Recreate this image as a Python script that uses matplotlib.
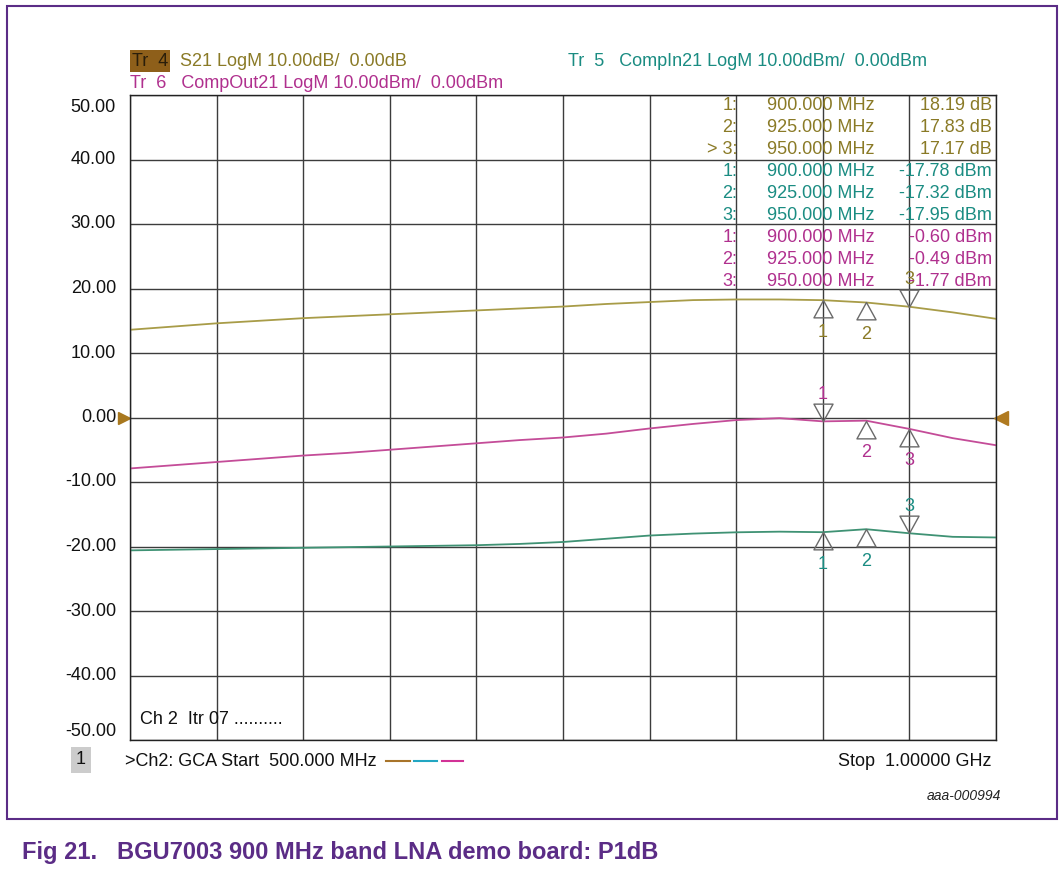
import numpy as np
import matplotlib
matplotlib.use("Agg")
import matplotlib.pyplot as plt
from matplotlib.path import Path
from matplotlib.lines import Line2D
from matplotlib.patches import Rectangle
import matplotlib.transforms as mtransforms

plt.rcParams['font.family'] = ['Liberation Sans', 'DejaVu Sans']

# frequency axis (MHz) and the three traces
freq = [500, 525, 550, 575, 600, 625, 650, 675, 700, 725, 750,
        775, 800, 825, 850, 875, 900, 925, 950, 975, 1000]
s21 = [13.6, 14.1, 14.6, 15.0, 15.4, 15.7, 16.0, 16.3, 16.6, 16.9, 17.2,
       17.6, 17.9, 18.2, 18.3, 18.3, 18.19, 17.83, 17.17, 16.3, 15.3]
comp_out = [-7.9, -7.4, -6.9, -6.4, -5.9, -5.5, -5.0, -4.5, -4.0, -3.5, -3.1,
            -2.5, -1.7, -1.0, -0.4, -0.1, -0.60, -0.49, -1.77, -3.2, -4.3]
comp_in = [-20.6, -20.5, -20.4, -20.3, -20.2, -20.1, -20.0, -19.9, -19.8, -19.6, -19.3,
           -18.8, -18.3, -18.0, -17.8, -17.7, -17.78, -17.32, -17.95, -18.5, -18.6]

# markers
mk_freq = [900, 925, 950]
mk_s21 = [18.19, 17.83, 17.17]
mk_in = [-17.78, -17.32, -17.95]
mk_out = [-0.60, -0.49, -1.77]
mk_s21_dir = ['up', 'up', 'down']
mk_out_dir = ['down', 'up', 'up']
mk_in_dir = ['up', 'up', 'down']

y_ticks = [50, 40, 30, 20, 10, 0, -10, -20, -30, -40, -50]

C_S21_TXT = '#8a7a26'
C_IN_TXT = '#1a8c82'
C_OUT_TXT = '#b0308e'
C_S21 = '#a89c48'
C_IN = '#3f9274'
C_OUT = '#c44c98'
PURPLE = '#5b2c86'
FS = 13

W, H = 1063, 873


def fx(x):
    return x / W


def fy(y):
    return 1 - y / H


fig = plt.figure(figsize=(W / 100, H / 100), dpi=100)
ax = fig.add_axes([fx(130), fy(740), (996 - 130) / W, (740 - 95) / H])
ax.set_xlim(500, 1000)
ax.set_ylim(-50, 50)
ax.set_xticks(np.arange(500, 1001, 50))
ax.set_yticks(y_ticks)
ax.grid(color='#3c3c3c', lw=1.0)
ax.tick_params(length=0, labelbottom=False, labelleft=False)
for s in ax.spines.values():
    s.set_color('#222222')
    s.set_linewidth(1.0)

# y labels (the end labels sit inside the box like on the instrument)
for v in y_ticks:
    off = 0
    if v == 50:
        off = -12
    elif v == -50:
        off = 8
    ax.annotate(f"{v:.2f}", xy=(0, v), xycoords=ax.get_yaxis_transform(),
                xytext=(-14, off), textcoords='offset pixels',
                ha='right', va='center', fontsize=FS, color='#111111')

ax.plot(freq, s21, color=C_S21, lw=1.3)
ax.plot(freq, comp_out, color=C_OUT, lw=1.3)
ax.plot(freq, comp_in, color=C_IN, lw=1.3)

# marker triangles, apex on the trace
tri_down = Path([(0, 0), (-0.55, 1), (0.55, 1), (0, 0)], closed=True)
tri_up = Path([(0, 0), (-0.55, -1), (0.55, -1), (0, 0)], closed=True)


def draw_markers(vals, dirs, col):
    for i, (f, v, d) in enumerate(zip(mk_freq, vals, dirs)):
        m = tri_down if d == 'down' else tri_up
        ax.plot([f], [v], marker=m, ms=25, mfc='none', mec='#6a6a6a',
                mew=1.0, clip_on=False)
        dy = 27 if d == 'down' else -32
        ax.annotate(str(i + 1), xy=(f, v), xytext=(0, dy),
                    textcoords='offset pixels', ha='center', va='center',
                    fontsize=FS, color=col)


draw_markers(mk_s21, mk_s21_dir, C_S21_TXT)
draw_markers(mk_out, mk_out_dir, C_OUT_TXT)
draw_markers(mk_in, mk_in_dir, C_IN_TXT)

# reference level arrows on both edges
left_ref, = ax.plot([500], [0], marker='>', ms=9, color='#a8781e', clip_on=False)
right_ref, = ax.plot([1000], [0], marker='<', ms=10, color='#b07a20', clip_on=False)
left_ref.set_transform(ax.transData + mtransforms.Affine2D().translate(-6, 0))
right_ref.set_transform(ax.transData + mtransforms.Affine2D().translate(5, 0))

# header
fig.text(fx(132), fy(61), "Tr  4", fontsize=FS, color='#2a1e0a', va='center',
         bbox=dict(boxstyle='square,pad=0.12', fc='#8e5f1a', ec='none'))
fig.text(fx(180), fy(61), "S21 LogM 10.00dB/  0.00dB", fontsize=FS,
         color=C_S21_TXT, va='center')
fig.text(fx(130), fy(83), "Tr  6   CompOut21 LogM 10.00dBm/  0.00dBm",
         fontsize=FS, color=C_OUT_TXT, va='center')
fig.text(fx(568), fy(61), "Tr  5   CompIn21 LogM 10.00dBm/  0.00dBm",
         fontsize=FS, color=C_IN_TXT, va='center')

# marker table
rows = []
for name, vals, unit, col in [('s21', mk_s21, 'dB', C_S21_TXT),
                              ('in', mk_in, 'dBm', C_IN_TXT),
                              ('out', mk_out, 'dBm', C_OUT_TXT)]:
    for i, (f, v) in enumerate(zip(mk_freq, vals)):
        lab = f"{i + 1}:"
        if name == 's21' and i == 2:
            lab = "> 3:"
        rows.append((lab, f"{f:.3f} MHz", f"{v:.2f} {unit}", col))
for k, (lab, fr, val, col) in enumerate(rows):
    y = 106 + k * 22.0
    fig.text(fx(737), fy(y), lab, ha='right', va='center', fontsize=FS, color=col)
    fig.text(fx(767), fy(y), fr, ha='left', va='center', fontsize=FS, color=col)
    fig.text(fx(992), fy(y), val, ha='right', va='center', fontsize=FS, color=col)

# footer of the screen
ax.text(0.012, 0.018, "Ch 2  Itr 07 ..........", transform=ax.transAxes,
        fontsize=FS, color='#111111', ha='left', va='bottom')
fig.text(fx(81), fy(760), "1", ha='center', va='center', fontsize=FS,
         color='#111111', bbox=dict(boxstyle='square,pad=0.25', fc='#cccccc', ec='none'))
fig.text(fx(125), fy(761), ">Ch2: GCA Start  500.000 MHz", ha='left', va='center',
         fontsize=FS, color='#111111')
for x0, x1, c in [(386, 410, '#a8742a'), (414, 437, '#22a6c2'), (442, 463, '#d23296')]:
    fig.add_artist(Line2D([fx(x0), fx(x1)], [fy(761), fy(761)], color=c, lw=1.5))
fig.text(fx(992), fy(762), "Stop  1.00000 GHz", ha='right', va='center',
         fontsize=FS, color='#111111')
fig.text(fx(1001), fy(796), "aaa-000994", ha='right', va='center',
         fontsize=10, style='italic', color='#222222')

# document frame and caption
fig.add_artist(Rectangle((fx(7), fy(819)), (1057 - 7) / W, (819 - 6) / H,
                         fill=False, ec=PURPLE, lw=1.5, transform=fig.transFigure))
fig.text(fx(22), fy(852), "Fig 21.   BGU7003 900 MHz band LNA demo board: P1dB",
         ha='left', va='center', fontsize=17, fontweight='bold', color=PURPLE)

fig.savefig("out.png", dpi=100)
